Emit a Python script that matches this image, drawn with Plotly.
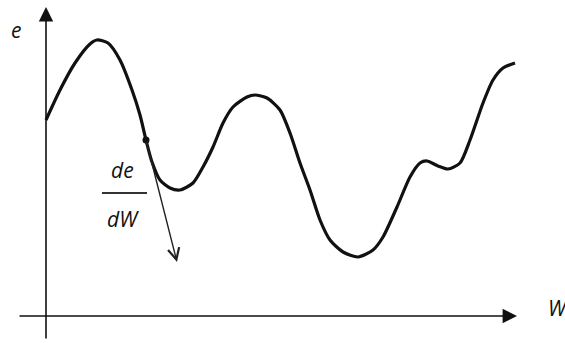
import plotly.graph_objects as go

# Error curve e(W), measured from the axes origin
w_vals = [0, 14, 29, 44, 51, 62, 74, 86, 94, 100, 106, 114, 124, 134,
          147, 157, 167, 177, 187, 201, 209, 221, 234, 244, 254, 264, 274, 284,
          297, 312, 327, 337, 351, 364, 374, 381, 392, 402, 414, 424,
          437, 447, 457, 469]
e_vals = [196, 226, 253, 272, 276, 273, 256, 226, 201, 176, 154, 136, 128, 126,
          133, 149, 169, 193, 209, 219, 221, 218, 206, 183, 153, 126, 96, 76,
          64, 59, 66, 79, 109, 139, 153, 155, 150, 147, 153, 176,
          213, 236, 248, 253]

# Point where the gradient is taken and the end of the gradient arrow
tangent_w, tangent_e = 100, 176
arrow_w, arrow_e = 131, 54

# Axis extents
w_axis = [-28, 471]
e_axis = [-24, 309]

ink = "#111111"
label_font = dict(family="Open Sans", size=21, color=ink, style="italic")

fig = go.Figure()

fig.add_trace(go.Scatter(
    x=w_vals, y=e_vals, mode="lines",
    line=dict(color=ink, width=3.2, shape="spline", smoothing=0.7),
    hoverinfo="skip", showlegend=False,
))
fig.add_trace(go.Scatter(
    x=[tangent_w], y=[tangent_e], mode="markers",
    marker=dict(color=ink, size=7),
    hoverinfo="skip", showlegend=False,
))

annotations = [
    # vertical (e) axis
    dict(x=0, y=e_axis[1], ax=0, ay=e_axis[0], xref="x", yref="y", axref="x", ayref="y",
         text="", showarrow=True, arrowhead=2, arrowsize=1.8, arrowwidth=1.6, arrowcolor=ink),
    # horizontal (W) axis
    dict(x=w_axis[1], y=0, ax=w_axis[0], ay=0, xref="x", yref="y", axref="x", ayref="y",
         text="", showarrow=True, arrowhead=2, arrowsize=1.8, arrowwidth=1.6, arrowcolor=ink),
    # gradient arrow
    dict(x=arrow_w, y=arrow_e, ax=tangent_w, ay=tangent_e, xref="x", yref="y", axref="x", ayref="y",
         text="", showarrow=True, arrowhead=5, arrowsize=1.6, arrowwidth=1.4, arrowcolor="#222222"),
    # axis labels
    dict(x=-30, y=286, xref="x", yref="y", text="e", showarrow=False, font=label_font),
    dict(x=500, y=8, xref="x", yref="y", text="W", showarrow=False, font=label_font,
         xanchor="left"),
    # derivative label
    dict(x=76, y=146, xref="x", yref="y", text="de", showarrow=False, font=label_font),
    dict(x=77, y=97, xref="x", yref="y", text="dW", showarrow=False, font=label_font),
]

fig.add_shape(type="line", x0=56, x1=101, y0=123, y1=123, xref="x", yref="y",
              line=dict(color="#333333", width=2))

fig.update_layout(
    width=565, height=343, autosize=False,
    margin=dict(l=0, r=0, t=0, b=0),
    paper_bgcolor="white", plot_bgcolor="white",
    xaxis=dict(range=[-46, 519], visible=False, fixedrange=True),
    yaxis=dict(range=[-27, 316], visible=False, fixedrange=True),
    annotations=annotations,
)

fig.write_html("out.html")
